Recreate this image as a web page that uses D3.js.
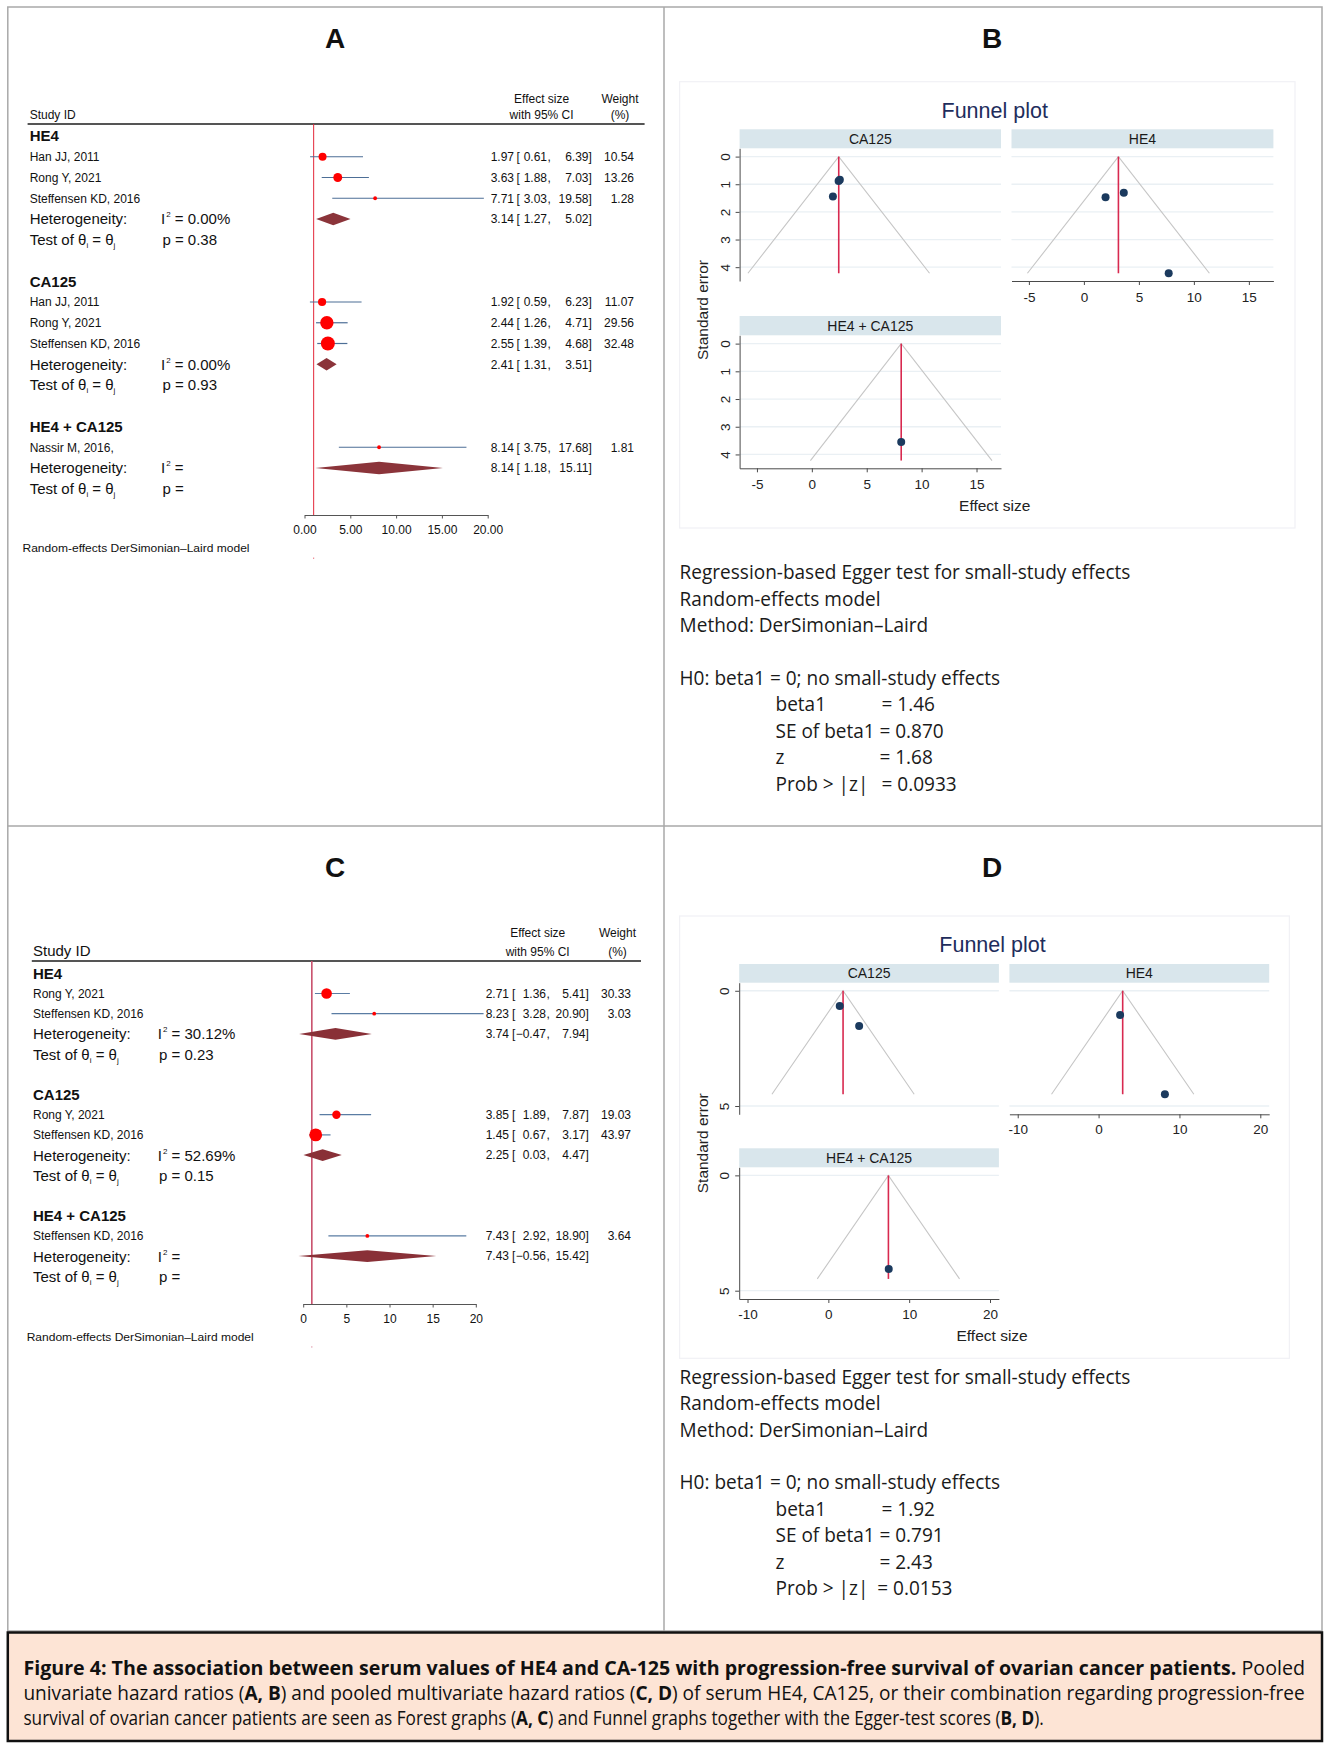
<!DOCTYPE html>
<html><head><meta charset="utf-8">
<script src="https://cdn.jsdelivr.net/npm/d3@7"></script>
<style>
body{margin:0;background:#fff;}
svg{display:block;}
</style></head>
<body>
<svg id="fig" width="1324" height="1747"></svg>
<script>
// ================= DATA =================
// Panel A — pooled univariate HRs (forest plot)
const A_groups = ["HE4", "CA125", "HE4 + CA125"];
const A_studies = ["Han JJ, 2011", "Rong Y, 2021", "Steffensen KD, 2016",
                   "Han JJ, 2011", "Rong Y, 2021", "Steffensen KD, 2016",
                   "Nassir M, 2016,"];
const A_studyGroup = [0, 0, 0, 1, 1, 1, 2];
const A_es = [1.97, 3.63, 7.71, 1.92, 2.44, 2.55, 8.14];
const A_lo = [0.61, 1.88, 3.03, 0.59, 1.26, 1.39, 3.75];
const A_hi = [6.39, 7.03, 19.58, 6.23, 4.71, 4.68, 17.68];
const A_wt = [10.54, 13.26, 1.28, 11.07, 29.56, 32.48, 1.81];
const A_poolEs = [3.14, 2.41, 8.14];
const A_poolLo = [1.27, 1.31, 1.18];
const A_poolHi = [5.02, 3.51, 15.11];
const A_i2 = ["0.00%", "0.00%", ""];
const A_p = ["0.38", "0.93", ""];
const A_ticks = [0, 5, 10, 15, 20];
const A_tickLabels = ["0.00", "5.00", "10.00", "15.00", "20.00"];

// Panel C — pooled multivariate HRs (forest plot)
const C_groups = ["HE4", "CA125", "HE4 + CA125"];
const C_studies = ["Rong Y, 2021", "Steffensen KD, 2016",
                   "Rong Y, 2021", "Steffensen KD, 2016",
                   "Steffensen KD, 2016"];
const C_studyGroup = [0, 0, 1, 1, 2];
const C_es = [2.71, 8.23, 3.85, 1.45, 7.43];
const C_lo = [1.36, 3.28, 1.89, 0.67, 2.92];
const C_hi = [5.41, 20.90, 7.87, 3.17, 18.90];
const C_wt = [30.33, 3.03, 19.03, 43.97, 3.64];
const C_poolEs = [3.74, 2.25, 7.43];
const C_poolLo = [-0.47, 0.03, -0.56];
const C_poolHi = [7.94, 4.47, 15.42];
const C_i2 = ["30.12%", "52.69%", ""];
const C_p = ["0.23", "0.15", ""];
const C_ticks = [0, 5, 10, 15, 20];
const C_tickLabels = ["0", "5", "10", "15", "20"];

// Panel B — funnel plot (univariate)
const B_facets = ["CA125", "HE4", "HE4 + CA125"];
const B_ptFacet = [1, 1, 1, 0, 0, 0, 2];
const B_ptEs = [1.97, 3.63, 7.71, 1.92, 2.44, 2.55, 8.14];
const B_ptSe = [1.47, 1.31, 4.22, 1.44, 0.88, 0.84, 3.55];
const B_center = [2.45, 3.14, 8.14];
const B_maxSe = 4.22;
const B_xTicks = [-5, 0, 5, 10, 15];
const B_yTicks = [0, 1, 2, 3, 4];
const B_egger = ["1.46", "0.870", "1.68", "0.0933"];

// Panel D — funnel plot (multivariate)
const D_facets = ["CA125", "HE4", "HE4 + CA125"];
const D_ptFacet = [1, 1, 0, 0, 2];
const D_ptEs = [2.66, 8.20, 3.81, 1.41, 7.47];
const D_ptSe = [1.05, 4.49, 1.53, 0.66, 4.06];
const D_center = [1.82, 2.98, 7.43];
const D_maxSe = 4.49;
const D_xTicks = [-10, 0, 10, 20];
const D_yTicks = [0, 5];
const D_egger = ["1.92", "0.791", "2.43", "0.0153"];

// Egger test text
const eggerHead = ["Regression-based Egger test for small-study effects",
                   "Random-effects model",
                   "Method: DerSimonian\u2013Laird",
                   "H0: beta1 = 0; no small-study effects"];
const eggerStats = ["beta1", "SE of beta1", "z", "Prob > |z|"];

const panelLetters = ["A", "B", "C", "D"];

// Caption (segments: text, bold)
const caption = [
  [["Figure 4: The association between serum values of HE4 and CA-125 with progression-free survival of ovarian cancer patients.", true], [" Pooled", false]],
  [["univariate hazard ratios (", false], ["A, B", true], [") and pooled multivariate hazard ratios (", false], ["C, D", true], [") of serum HE4, CA125, or their combination regarding progression-free", false]],
  [["survival of ovarian cancer patients are seen as Forest graphs (", false], ["A, C", true], [") and Funnel graphs together with the Egger-test scores (", false], ["B, D", true], [").", false]]
];

// ================= DRAWING =================
const svg = d3.select("#fig");
const SANS = "'Liberation Sans', Arial, sans-serif";
const HUM = "'Open Sans', 'Noto Sans', sans-serif";
const f2 = d3.format(".2f");

// frames
svg.append("rect").attr("x", 7.8).attr("y", 7).attr("width", 1314.2).attr("height", 1624)
  .attr("fill", "none").attr("stroke", "#a9a9a9").attr("stroke-width", 1.5);
svg.append("line").attr("x1", 664).attr("x2", 664).attr("y1", 7).attr("y2", 1631)
  .attr("stroke", "#a9a9a9").attr("stroke-width", 1.5);
svg.append("line").attr("x1", 7.8).attr("x2", 1322).attr("y1", 826).attr("y2", 826)
  .attr("stroke", "#a9a9a9").attr("stroke-width", 1.5);

// panel letters
const letterPos = [[335, 38], [992, 38], [335, 866.5], [992, 866.5]];
panelLetters.forEach((l, i) => {
  svg.append("text").attr("x", letterPos[i][0]).attr("y", letterPos[i][1]).attr("dy", "0.36em")
    .attr("text-anchor", "middle").attr("font-family", SANS).attr("font-weight", "bold")
    .attr("font-size", 28).attr("fill", "#111").text(l);
});

function T(sel, x, y, s, size, anchor, weight) {
  return sel.append("text").attr("x", x).attr("y", y).attr("dy", "0.36em")
    .attr("font-size", size).attr("text-anchor", anchor || "start")
    .attr("font-weight", weight || "normal").text(s);
}

function forest(L, D) {
  const g = svg.append("g").attr("font-family", SANS).attr("fill", "#111");
  const x = d3.scaleLinear().domain([D.ticks[0], D.ticks[D.ticks.length - 1]]).range(L.xRange);
  const rowY = d3.scaleLinear().domain([0, 1]).range([L.row0, L.row0 + L.rowStep]);
  const rad = d3.scaleSqrt().domain([0, d3.max(D.wt)]).range([0, L.rMax]);

  T(g, L.esHeadX, L.head1Y, "Effect size", 12, "middle");
  T(g, L.esHeadX, L.head2Y, "with 95% CI", 12, "middle");
  T(g, L.wtHeadX, L.head1Y, "Weight", 12, "middle");
  T(g, L.wtHeadX, L.head2Y, "(%)", 12, "middle");
  T(g, L.textX, L.studyIdY, "Study ID", L.studyIdSize);
  g.append("line").attr("x1", L.lineX[0]).attr("x2", L.lineX[1])
    .attr("y1", L.headLineY).attr("y2", L.headLineY).attr("stroke", "#555").attr("stroke-width", 1.8);
  g.append("line").attr("x1", x(1)).attr("x2", x(1)).attr("y1", L.headLineY).attr("y2", L.axisY)
    .attr("stroke", L.refColor).attr("stroke-width", L.refWidth);

  const cols = (y, es, lo, hi, wt) => {
    T(g, L.estEnd, y, f2(es), 12, "end");
    T(g, L.lbX, y, "[", 12);
    T(g, L.loEnd, y, f2(lo), 12, "end");
    T(g, L.commaX, y, ",", 12);
    T(g, L.hiEnd, y, f2(hi), 12, "end");
    T(g, L.rbX, y, "]", 12);
    if (wt != null) T(g, L.wtEnd, y, f2(wt), 12, "end");
  };

  let r = 0;
  D.groups.forEach((name, gi) => {
    T(g, L.textX, rowY(r), name, 15, "start", "bold");
    r++;
    D.studyGroup.forEach((sg, si) => {
      if (sg !== gi) return;
      const y = rowY(r);
      T(g, L.textX, y, D.studies[si], 12);
      g.append("line").attr("x1", x(D.lo[si])).attr("x2", x(D.hi[si])).attr("y1", y).attr("y2", y)
        .attr("stroke", L.ciColor).attr("stroke-width", 1.2);
      g.append("circle").attr("cx", x(D.es[si])).attr("cy", y)
        .attr("r", Math.max(L.rMin, rad(D.wt[si]))).attr("fill", "#ff0000");
      cols(y, D.es[si], D.lo[si], D.hi[si], D.wt[si]);
      r++;
    });
    const yh = rowY(r), yt = rowY(r + 1);
    T(g, L.textX, yh, "Heterogeneity:", 15);
    const ti = g.append("text").attr("x", L.i2X).attr("y", yh).attr("dy", "0.36em").attr("font-size", 15);
    ti.append("tspan").text("I");
    ti.append("tspan").attr("font-size", 8).attr("dy", -7).attr("dx", 1).text("2");
    ti.append("tspan").attr("dy", 7).text(" = " + D.i2[gi]);
    const tt = g.append("text").attr("x", L.textX).attr("y", yt).attr("dy", "0.36em").attr("font-size", 15);
    tt.append("tspan").text("Test of \u03b8");
    tt.append("tspan").attr("font-size", 8).attr("dy", 3).text("i");
    tt.append("tspan").attr("dy", -3).text(" = \u03b8");
    tt.append("tspan").attr("font-size", 8).attr("dy", 3).text("j");
    T(g, L.pX, yt, "p = " + D.p[gi], 15);
    const h = L.diamondH;
    const pts = [[x(D.poolLo[gi]), yh], [x(D.poolEs[gi]), yh - h], [x(D.poolHi[gi]), yh], [x(D.poolEs[gi]), yh + h]];
    g.append("path").attr("d", d3.line()(pts) + "Z").attr("fill", L.diamondColor);
    cols(yh, D.poolEs[gi], D.poolLo[gi], D.poolHi[gi], null);
    r += 3;
  });

  const ax = d3.axisBottom(x).tickValues(D.ticks).tickFormat((d, i) => D.tickLabels[i])
    .tickSize(3.5).tickSizeOuter(0).tickPadding(L.tickPad);
  const ga = g.append("g").attr("transform", `translate(0,${L.axisY})`).call(ax)
    .attr("font-size", 12).attr("font-family", SANS);
  ga.select(".domain").attr("stroke", "#555");
  ga.selectAll(".tick line").attr("stroke", "#555");
  ga.selectAll(".tick text").attr("fill", "#111");

  T(g, L.noteX, L.noteY, "Random-effects DerSimonian\u2013Laird model", 11.5)
    .attr("textLength", 227).attr("lengthAdjust", "spacingAndGlyphs");
  // small stray reference-line mark below the note, as in the source graphic
  g.append("line").attr("x1", x(1)).attr("x2", x(1)).attr("y1", L.noteY + 9.5).attr("y2", L.noteY + 11)
    .attr("stroke", L.refColor).attr("stroke-width", 1).attr("opacity", 0.6);
}

forest({
  xRange: [304.5, 487.7], row0: 136, rowStep: 20.75, rMax: 7, rMin: 1.9,
  esHeadX: 541.6, wtHeadX: 620, head1Y: 98.3, head2Y: 115, studyIdY: 115, studyIdSize: 12,
  textX: 29.7, lineX: [27.6, 644.6], headLineY: 124, axisY: 515, tickPad: 7,
  i2X: 161, pX: 162.4,
  estEnd: 514, lbX: 516.5, loEnd: 547, commaX: 547.5, hiEnd: 588.5, rbX: 588.5, wtEnd: 634,
  refColor: "#e3263a", refWidth: 1, ciColor: "#4d6e96", diamondColor: "#8b343a", diamondH: 6.2,
  noteX: 22.5, noteY: 548
}, {groups: A_groups, studies: A_studies, studyGroup: A_studyGroup, es: A_es, lo: A_lo, hi: A_hi, wt: A_wt,
    poolEs: A_poolEs, poolLo: A_poolLo, poolHi: A_poolHi, i2: A_i2, p: A_p, ticks: A_ticks, tickLabels: A_tickLabels});

forest({
  xRange: [303.2, 475.8], row0: 973.3, rowStep: 20.2, rMax: 6.4, rMin: 1.9,
  esHeadX: 537.7, wtHeadX: 617.5, head1Y: 932.3, head2Y: 951.7, studyIdY: 950.3, studyIdSize: 15,
  textX: 33, lineX: [31.8, 641], headLineY: 961, axisY: 1304, tickPad: 6.5,
  i2X: 157.8, pX: 159,
  estEnd: 509, lbX: 512, loEnd: 546, commaX: 546.5, hiEnd: 585.5, rbX: 585.5, wtEnd: 631,
  refColor: "#c9506c", refWidth: 1.6, ciColor: "#5a7ca3", diamondColor: "#893037", diamondH: 5.9,
  noteX: 26.7, noteY: 1336.7
}, {groups: C_groups, studies: C_studies, studyGroup: C_studyGroup, es: C_es, lo: C_lo, hi: C_hi, wt: C_wt,
    poolEs: C_poolEs, poolLo: C_poolLo, poolHi: C_poolHi, i2: C_i2, p: C_p, ticks: C_ticks, tickLabels: C_tickLabels});

function funnel(L, D) {
  const g = svg.append("g").attr("font-family", SANS);
  g.append("rect").attr("x", L.box[0]).attr("y", L.box[1]).attr("width", L.box[2]).attr("height", L.box[3])
    .attr("fill", "none").attr("stroke", "#f1f1f5").attr("stroke-width", 1.2);
  T(g, L.titleX, L.titleY, "Funnel plot", 21.5, "middle").attr("fill", "#1e2d5c");
  L.facets.forEach((F, fi) => {
    const x = d3.scaleLinear().domain(L.xDomain).range([F.x0, F.x1]);
    const y = d3.scaleLinear().domain(L.yDomain).range([F.plotTop, F.plotBottom]);
    g.append("rect").attr("x", F.x0).attr("y", F.stripTop).attr("width", F.x1 - F.x0)
      .attr("height", F.plotTop - F.stripTop).attr("fill", "#d9e6ec");
    T(g, (F.x0 + F.x1) / 2, (F.stripTop + F.plotTop) / 2, D.facets[fi], 14, "middle").attr("fill", "#1a1a1a");
    D.yTicks.forEach(t => {
      g.append("line").attr("x1", F.x0).attr("x2", F.x1).attr("y1", y(t)).attr("y2", y(t))
        .attr("stroke", "#eaf0f4").attr("stroke-width", 1.3);
    });
    const c = D.center[fi], m = D.maxSe;
    g.append("path").attr("d", d3.line()([[x(c - 1.96 * m), y(m)], [x(c), y(0)], [x(c + 1.96 * m), y(m)]]))
      .attr("fill", "none").attr("stroke", "#c6c6c6").attr("stroke-width", 1.1);
    g.append("line").attr("x1", x(c)).attr("x2", x(c)).attr("y1", y(0)).attr("y2", y(m))
      .attr("stroke", "#d8294f").attr("stroke-width", 1.6);
    D.ptFacet.forEach((pf, i) => {
      if (pf !== fi) return;
      g.append("circle").attr("cx", x(D.es[i])).attr("cy", y(D.se[i])).attr("r", 4).attr("fill", "#1b3a5e");
    });
    if (F.yAxis) {
      const ay = g.append("g").attr("transform", `translate(${F.x0},0)`)
        .call(d3.axisLeft(y).tickValues(D.yTicks).tickSize(4).tickSizeOuter(0).tickFormat(d => String(d)))
        .attr("font-size", 13.5).attr("font-family", SANS);
      ay.select(".domain").attr("stroke", "#4a4a4a");
      ay.selectAll(".tick line").attr("stroke", "#4a4a4a");
      ay.selectAll(".tick text").attr("x", 0).attr("y", 0).attr("dy", "0.35em").attr("text-anchor", "middle")
        .attr("transform", `translate(${-L.yLabOff},0) rotate(-90)`).attr("fill", "#222");
    }
    if (F.xAxis) {
      const axx = g.append("g").attr("transform", `translate(0,${F.plotBottom})`)
        .call(d3.axisBottom(x).tickValues(D.xTicks).tickSize(4).tickSizeOuter(0).tickPadding(L.tickPad).tickFormat(d => String(d)))
        .attr("font-size", 13.5).attr("font-family", SANS);
      axx.select(".domain").attr("stroke", "#4a4a4a");
      axx.selectAll(".tick line").attr("stroke", "#4a4a4a");
      axx.selectAll(".tick text").attr("fill", "#222");
    }
  });
  g.append("text").attr("transform", `translate(${L.yTitle[0]},${L.yTitle[1]}) rotate(-90)`)
    .attr("dy", "0.36em").attr("text-anchor", "middle").attr("font-size", 15.5).attr("fill", "#222").text("Standard error");
  T(g, L.xTitle[0], L.xTitle[1], "Effect size", 15.5, "middle").attr("fill", "#222");
}

funnel({
  box: [679.6, 81.7, 615.4, 446.3], titleX: 994.7, titleY: 110,
  xDomain: [-6.58, 17.23], yDomain: [-0.3, 4.5], tickPad: 7, yLabOff: 14.5,
  yTitle: [702.9, 310], xTitle: [994.7, 505],
  facets: [
    {x0: 739.6, x1: 1001, stripTop: 129.3, plotTop: 148.3, plotBottom: 281, yAxis: true, xAxis: false},
    {x0: 1011.5, x1: 1273.4, stripTop: 129.3, plotTop: 148.3, plotBottom: 281, yAxis: false, xAxis: true},
    {x0: 739.6, x1: 1001, stripTop: 316, plotTop: 335.3, plotBottom: 468.3, yAxis: true, xAxis: true}
  ]
}, {facets: B_facets, ptFacet: B_ptFacet, es: B_ptEs, se: B_ptSe, center: B_center, maxSe: B_maxSe,
    xTicks: B_xTicks, yTicks: B_yTicks});

funnel({
  box: [679.6, 916, 609.8, 442.3], titleX: 992.5, titleY: 944.3,
  xDomain: [-11.03, 21.1], yDomain: [-0.35, 5.36], tickPad: 6.3, yLabOff: 14.5,
  yTitle: [702.9, 1143.3], xTitle: [992.1, 1335.3],
  facets: [
    {x0: 739.2, x1: 998.9, stripTop: 964, plotTop: 982.7, plotBottom: 1114.3, yAxis: true, xAxis: false},
    {x0: 1009.4, x1: 1269.2, stripTop: 964, plotTop: 982.7, plotBottom: 1114.3, yAxis: false, xAxis: true},
    {x0: 739.2, x1: 998.9, stripTop: 1148.3, plotTop: 1167.3, plotBottom: 1299, yAxis: true, xAxis: true}
  ]
}, {facets: D_facets, ptFacet: D_ptFacet, es: D_ptEs, se: D_ptSe, center: D_center, maxSe: D_maxSe,
    xTicks: D_xTicks, yTicks: D_yTicks});

// Text block horizontally condensed by a transform (keeps glyph shapes, no overlap)
function condensed(sel, x, y, size, k) {
  const g = sel.append("g").attr("transform", `translate(${x},${y}) scale(${k},1)`);
  return g.append("text").attr("x", 0).attr("y", 0).attr("dy", "0.36em").attr("font-size", size);
}

function egger(L, values) {
  const g = svg.append("g").attr("font-family", HUM).attr("fill", "#1a1a1a");
  const rowY = d3.scaleLinear().domain([0, 1]).range([L.row0, L.row0 + L.step]);
  const size = 20.5;
  // measure the first line to get the common condensing factor
  const probe = g.append("text").attr("font-size", size).text(eggerHead[0]);
  const k = L.line1W / probe.node().getComputedTextLength();
  probe.remove();
  const slots = [0, 1, 2, 4];
  eggerHead.forEach((t, i) => condensed(g, L.x, rowY(slots[i]), size, k).text(t));
  eggerStats.forEach((t, i) => {
    condensed(g, L.statX, rowY(5 + i), size, k).text(t);
    condensed(g, L.eqX[i], rowY(5 + i), size, k).text("= " + values[i]);
  });
}
egger({x: 679.6, row0: 572, step: 26.4, statX: 775.5, eqX: [881.5, 879.4, 879.4, 881.5], line1W: 451}, B_egger);
egger({x: 679.6, row0: 1376.5, step: 26.4, statX: 775.5, eqX: [881.5, 879.4, 879.4, 877.3], line1W: 451}, D_egger);

// caption box
svg.append("rect").attr("x", 7.8).attr("y", 1632.5).attr("width", 1314.2).attr("height", 108.5)
  .attr("fill", "#fde4d5").attr("stroke", "#111").attr("stroke-width", 2.5);
const capY = [1668.4, 1693, 1717.5];
const capW = [1283, 1282, 1021];
const capG = svg.append("g").attr("font-family", HUM).attr("fill", "#111");
caption.forEach((segs, li) => {
  const probe = capG.append("text").attr("font-size", 19.5);
  segs.forEach(s => probe.append("tspan").attr("font-weight", s[1] ? "bold" : "normal").text(s[0]));
  const k = capW[li] / probe.node().getComputedTextLength();
  probe.remove();
  const t = condensed(capG, 23.4, capY[li], 19.5, k);
  segs.forEach(s => t.append("tspan").attr("font-weight", s[1] ? "bold" : "normal").text(s[0]));
});
</script>
</body></html>
